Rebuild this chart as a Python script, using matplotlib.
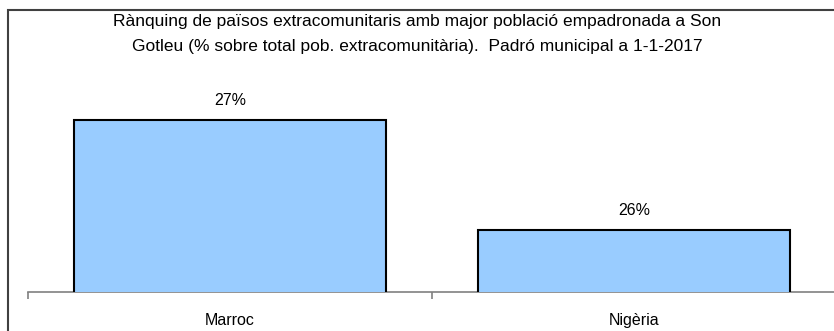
import matplotlib
matplotlib.use('Agg')
import matplotlib.pyplot as plt
from matplotlib.patches import Rectangle

# data
countries = ['Marroc', 'Nigèria']
shares = [27, 26]
title = ('Rànquing de països extracomunitaris amb major població empadronada a Son\n'
         'Gotleu (% sobre total pob. extracomunitària).  Padró municipal a 1-1-2017')

W, H = 834, 331


def main():
    plt.rcParams['font.family'] = ['Liberation Sans', 'DejaVu Sans']
    fig = plt.figure(figsize=(W / 100, H / 100), dpi=100)

    # plot area: x from 28px to ~840px, baseline at y=292px
    ax = fig.add_axes([28 / W, (H - 292) / H, 808 / W, 282 / H])
    x = list(range(len(countries)))
    ax.bar(x, shares, width=0.772, bottom=0, color='#99CCFF',
           edgecolor='black', linewidth=1.5, zorder=3)
    ax.set_xlim(-0.5, 1.5)
    ax.set_ylim(25.44, 28.0)

    for xi, v in zip(x, shares):
        ax.annotate(f'{v}%', (xi, v), xytext=(0, 9), textcoords='offset points',
                    ha='center', va='bottom', fontsize=11.5)

    # axis styling: only the category axis is drawn
    for side in ['left', 'right', 'top']:
        ax.spines[side].set_visible(False)
    ax.spines['bottom'].set_color('#808080')
    ax.spines['bottom'].set_linewidth(1.2)
    ax.set_yticks([])
    ax.set_xticks([-0.5, 0.5, 1.5])
    ax.set_xticklabels([])
    ax.set_xticks(x, minor=True)
    ax.set_xticklabels(countries, minor=True, fontsize=11.5)
    ax.tick_params(axis='x', which='major', length=5, width=1.2, color='#808080')
    ax.tick_params(axis='x', which='minor', length=0, pad=15)

    fig.text(417 / W, 1 - 14 / H, title, ha='center', va='top',
             fontsize=12.5, linespacing=1.85)

    # outer frame of the chart (right and bottom sides fall outside the image)
    fig.patches.append(Rectangle((8 / W, -0.1), 2.0, 1.1 - 10 / H,
                                 transform=fig.transFigure, fill=False,
                                 edgecolor='#404040', linewidth=1.5))

    fig.savefig('out.png', dpi=100)


if __name__ == '__main__':
    main()
